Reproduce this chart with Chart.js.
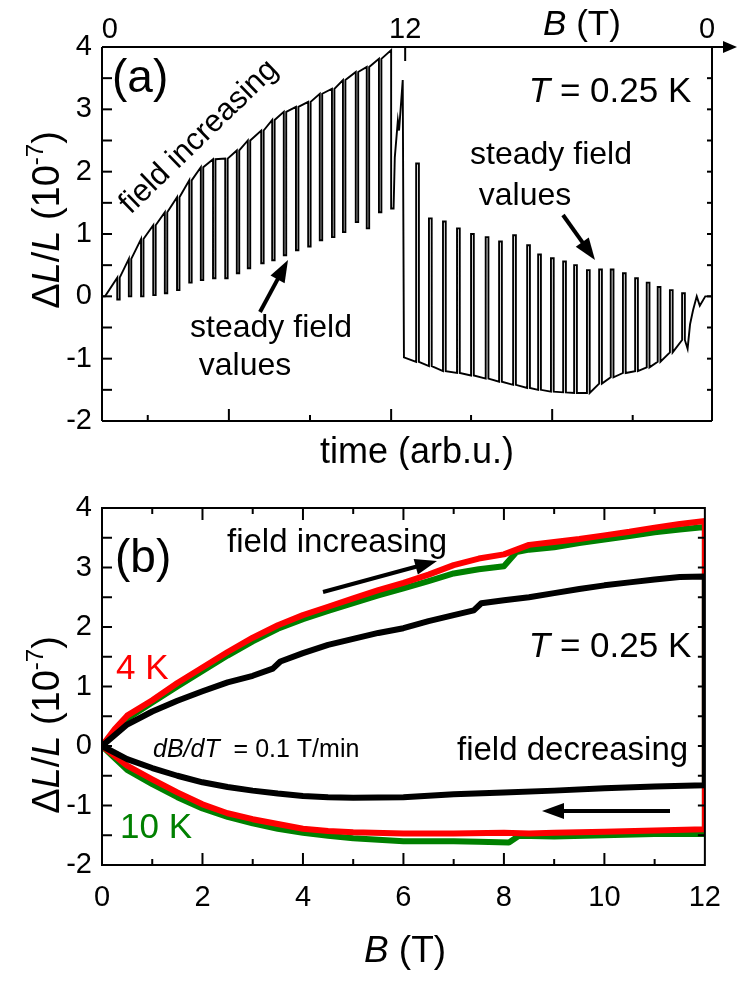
<!DOCTYPE html>
<html>
<head>
<meta charset="utf-8">
<script src="https://cdn.jsdelivr.net/npm/chart.js@4.4.0/dist/chart.umd.min.js"></script>
<style>
  html, body { margin: 0; padding: 0; background: #fff; }
  #wrapA { position: absolute; left: 0; top: 0; width: 737px; height: 470px; }
  #wrapB { position: absolute; left: 0; top: 470px; width: 737px; height: 511px; }
</style>
</head>
<body>
<div id="wrapA"><canvas id="panelA" width="737" height="470"></canvas></div>
<div id="wrapB"><canvas id="panelB" width="737" height="511"></canvas></div>
<script>
// ---- panel (a): time trace, field 0 -> 12 T -> 0, T = 0.25 K ----
// time in arb.u. (0..100); steady-field stops while the field goes up
const upStopTime = [2.5, 4.4, 6.4, 8.4, 10.3, 12.3, 14.3, 16.2, 18.2, 20.2, 22.1, 23.9,
  26.1, 27.9, 29.8, 31.8, 33.8, 35.7, 37.7, 39.5, 41.6, 43.4, 45.4, 47.4];
const upTop = [0.30, 0.60, 0.92, 1.14, 1.35, 1.59, 1.86, 2.07, 2.20, 2.21, 2.34, 2.50,
  2.66, 2.83, 2.96, 3.04, 3.12, 3.25, 3.33, 3.47, 3.60, 3.68, 3.81, 3.95];
const upBottom = [-0.05, 0.00, 0.00, 0.02, 0.05, 0.10, 0.22, 0.26, 0.29, 0.29, 0.37, 0.45,
  0.53, 0.58, 0.66, 0.74, 0.80, 0.90, 0.95, 1.03, 1.19, 1.09, 1.35, 1.41];
// around 12 T
const peakTime = [48.0, 48.5, 48.7, 49.3, 49.5];
const peakVal = [2.23, 2.82, 2.66, 3.47, -0.98];
// steady-field stops while the field goes down
const downStopTime = [51.5, 53.6, 55.9, 58.2, 60.5, 62.9, 65.1, 67.4, 69.7, 71.5, 73.6,
  75.6, 77.4, 79.5, 81.5, 83.4, 85.4, 87.4, 89.3, 91.1, 93.1, 95.1];
const downTop = [2.13, 1.25, 1.20, 1.09, 1.00, 0.95, 0.88, 0.98, 0.82, 0.67, 0.61,
  0.56, 0.50, 0.42, 0.43, 0.43, 0.37, 0.29, 0.22, 0.15, 0.10, 0.05];
const downBottom = [-1.05, -1.12, -1.20, -1.23, -1.27, -1.32, -1.37, -1.42, -1.47, -1.50, -1.53,
  -1.54, -1.55, -1.55, -1.40, -1.30, -1.23, -1.20, -1.14, -1.05, -0.90, -0.70];
const tailTime = [96.0, 96.4, 96.9, 97.5, 98.0, 98.9, 100];
const tailVal = [-0.84, -0.45, -0.22, 0.00, -0.15, 0.00, 0.00];

// axis decorations of panel (a)
const timeMinor = [7.5, 34.1, 60.5, 87.0];
const timeMajor = [20.8, 47.4, 73.8];
const fieldTickPos = [1.3, 49.7, 99.2];
const fieldTickLabels = ['0', '12', '0'];

// ---- panel (b): dL/L vs B at three temperatures ----
const bUp025 = [0, 0.5, 1, 1.5, 2, 2.5, 3, 3.4, 3.55, 4, 4.5, 5, 5.5, 6, 6.5, 7, 7.4, 7.55,
  8, 8.5, 9, 9.5, 10, 10.5, 11, 11.5, 12];
const dlUp025 = [0, 0.36, 0.58, 0.76, 0.92, 1.07, 1.18, 1.30, 1.42, 1.56, 1.70, 1.80, 1.90,
  1.98, 2.10, 2.20, 2.28, 2.40, 2.45, 2.50, 2.57, 2.64, 2.70, 2.75, 2.80, 2.84, 2.85];
const bDown025 = [12, 11, 10, 9, 8, 7, 6, 5, 4.5, 4, 3.5, 3, 2.5, 2, 1.5, 1, 0.5, 0];
const dlDown025 = [-0.66, -0.68, -0.71, -0.75, -0.78, -0.81, -0.86, -0.87, -0.86, -0.84,
  -0.80, -0.75, -0.69, -0.61, -0.50, -0.37, -0.22, 0];

const bUp4 = [0, 0.25, 0.5, 1, 1.5, 2, 2.5, 3, 3.5, 4, 4.5, 5, 5.5, 6, 6.5, 7, 7.5, 8, 8.5,
  9, 9.5, 10, 10.5, 11, 11.5, 12];
const dlUp4 = [0, 0.28, 0.51, 0.77, 1.06, 1.32, 1.58, 1.82, 2.03, 2.20, 2.34, 2.48, 2.62, 2.74,
  2.88, 3.04, 3.15, 3.22, 3.38, 3.43, 3.48, 3.54, 3.60, 3.67, 3.73, 3.78];
const bDown4 = [12, 11, 10, 9, 8.5, 8, 7, 6, 5, 4.5, 4, 3.5, 3, 2.5, 2, 1.5, 1, 0.5, 0];
const dlDown4 = [-1.40, -1.42, -1.44, -1.46, -1.47, -1.46, -1.47, -1.47, -1.45, -1.43, -1.39,
  -1.31, -1.23, -1.13, -0.98, -0.78, -0.56, -0.33, 0];

const bUp10 = [0, 0.25, 0.5, 1, 1.5, 2, 2.5, 3, 3.5, 4, 4.5, 5, 5.5, 6, 6.5, 7, 7.5, 8, 8.25, 8.5,
  9, 9.5, 10, 10.5, 11, 11.5, 12];
const dlUp10 = [0, 0.25, 0.46, 0.73, 1.00, 1.26, 1.52, 1.76, 1.97, 2.13, 2.27, 2.40, 2.53, 2.65,
  2.77, 2.90, 2.97, 3.02, 3.26, 3.30, 3.34, 3.41, 3.47, 3.53, 3.59, 3.64, 3.68];
const bDown10 = [12, 11, 10, 9, 8.3, 8.1, 7.5, 7, 6, 5, 4.5, 4, 3.5, 3, 2.5, 2, 1.5, 1, 0.5, 0];
const dlDown10 = [-1.48, -1.48, -1.50, -1.52, -1.51, -1.62, -1.61, -1.60, -1.60, -1.55, -1.51,
  -1.46, -1.39, -1.30, -1.19, -1.05, -0.86, -0.64, -0.40, 0];

const FAM = "'Liberation Sans', Arial, Helvetica, sans-serif";
const GREEN = '#008000';
const RED = '#ff0000';

// build the time trace: ramp along the envelope, drop at every steady-field stop
const upStopLen = 0.4, downStopLen = 0.45;
const traceA = [{ x: 0, y: 0 }, { x: 0.5, y: 0 }];
upStopTime.forEach((t, i) => {
  traceA.push({ x: t, y: upTop[i] }, { x: t, y: upBottom[i] }, { x: t + upStopLen, y: upBottom[i] });
  if (i < upStopTime.length - 1) traceA.push({ x: t + upStopLen, y: upTop[i] });
});
peakTime.forEach((t, i) => traceA.push({ x: t, y: peakVal[i] }));
downStopTime.forEach((t, i) => {
  traceA.push({ x: t, y: downBottom[i] }, { x: t, y: downTop[i] },
    { x: t + downStopLen, y: downTop[i] }, { x: t + downStopLen, y: downBottom[i] });
});
tailTime.forEach((t, i) => traceA.push({ x: t, y: tailVal[i] }));

function sweep(bu, vu, bd, vd) {
  return bu.map((b, i) => ({ x: b, y: vu[i] })).concat(bd.map((b, i) => ({ x: b, y: vd[i] })));
}

// ---- drawing helpers ----
function line(ctx, x1, y1, x2, y2) {
  ctx.beginPath(); ctx.moveTo(x1, y1); ctx.lineTo(x2, y2); ctx.stroke();
}
function arrow(ctx, x1, y1, x2, y2) {
  const a = Math.atan2(y2 - y1, x2 - x1), hl = 22, hw = 8;
  const bx = x2 - hl * Math.cos(a), by = y2 - hl * Math.sin(a);
  ctx.lineWidth = 4;
  line(ctx, x1, y1, bx + 2 * Math.cos(a), by + 2 * Math.sin(a));
  ctx.beginPath();
  ctx.moveTo(x2, y2);
  ctx.lineTo(bx + hw * Math.sin(a), by - hw * Math.cos(a));
  ctx.lineTo(bx - hw * Math.sin(a), by + hw * Math.cos(a));
  ctx.closePath(); ctx.fill();
}
// parts: [text, style] with style 'n' normal, 'i' italic, 's' superscript
function rich(ctx, x, y, parts, size, align) {
  const fontFor = s => (s === 'i' ? 'italic ' : '') + (s === 's' ? Math.round(size * 0.62) : size) + 'px ' + FAM;
  let w = 0;
  parts.forEach(p => { ctx.font = fontFor(p[1]); w += ctx.measureText(p[0]).width; });
  let cx = align === 'center' ? x - w / 2 : align === 'right' ? x - w : x;
  ctx.textAlign = 'left';
  ctx.textBaseline = 'alphabetic';
  parts.forEach(p => {
    ctx.font = fontFor(p[1]);
    ctx.fillText(p[0], cx, p[1] === 's' ? y - size * 0.42 : y);
    cx += ctx.measureText(p[0]).width;
  });
}
const yTitle = [['\u0394', 'n'], ['L', 'i'], ['/', 'n'], ['L', 'i'], [' (10', 'n'], ['-7', 's'], [')', 'n']];
function ticksLeft(ctx, a, y, len) {
  for (let v = -1.5; v <= 3.5; v += 0.5) { const p = y.getPixelForValue(v); line(ctx, a.left, p, a.left + len, p); }
}
function ticksRight(ctx, a, y, len) {
  for (let v = -1.5; v <= 3.5; v += 0.5) { const p = y.getPixelForValue(v); line(ctx, a.right, p, a.right - len, p); }
}

const decorA = {
  id: 'decorA',
  afterDraw(chart) {
    const { ctx, chartArea: a, scales: { x, y } } = chart;
    ctx.save();
    ctx.strokeStyle = '#000'; ctx.fillStyle = '#000'; ctx.lineWidth = 2;
    line(ctx, a.left, a.top, a.left, a.bottom);
    line(ctx, a.left, a.bottom, a.right, a.bottom);
    line(ctx, a.right, a.top, a.right, a.bottom);
    // field axis on top, with arrow
    line(ctx, a.left, a.top, 726, a.top);
    ctx.beginPath(); ctx.moveTo(737, a.top); ctx.lineTo(723, a.top - 6); ctx.lineTo(723, a.top + 6); ctx.closePath(); ctx.fill();
    ticksLeft(ctx, a, y, 10);
    ticksRight(ctx, a, y, 5);
    timeMinor.forEach(t => { const p = x.getPixelForValue(t); line(ctx, p, a.bottom, p, a.bottom - 6); });
    timeMajor.forEach(t => { const p = x.getPixelForValue(t); line(ctx, p, a.bottom, p, a.bottom - 12); });
    const p12 = x.getPixelForValue(fieldTickPos[1]);
    line(ctx, p12, a.top, p12, a.top + 14);
    ctx.font = '29px ' + FAM; ctx.textAlign = 'center'; ctx.textBaseline = 'alphabetic';
    fieldTickPos.forEach((t, i) => ctx.fillText(fieldTickLabels[i], x.getPixelForValue(t), a.top - 9));
    rich(ctx, 582, 35, [['B', 'i'], [' (T)', 'n']], 35, 'center');
    // titles
    rich(ctx, 417, 463, [['time (arb.u.)', 'n']], 36, 'center');
    ctx.save(); ctx.translate(46, 220); ctx.rotate(-Math.PI / 2);
    rich(ctx, 0, 13, yTitle, 38, 'center'); ctx.restore();
    // annotations
    rich(ctx, 112, 92, [['(a)', 'n']], 46, 'left');
    rich(ctx, 610, 102, [['T', 'i'], [' = 0.25 K', 'n']], 35, 'center');
    ctx.save(); ctx.translate(198, 136); ctx.rotate(-44 * Math.PI / 180);
    rich(ctx, 0, 10, [['field increasing', 'n']], 31, 'center'); ctx.restore();
    rich(ctx, 551, 164, [['steady field', 'n']], 32, 'center');
    rich(ctx, 525, 205, [['values', 'n']], 32, 'center');
    arrow(ctx, 563, 215, 595, 260);
    rich(ctx, 271, 337, [['steady field', 'n']], 32, 'center');
    rich(ctx, 245, 375, [['values', 'n']], 32, 'center');
    arrow(ctx, 260, 312, 288, 260);
    ctx.restore();
  }
};

const decorB = {
  id: 'decorB',
  afterDraw(chart) {
    const { ctx, chartArea: a, scales: { x, y } } = chart;
    const off = 470; // page y of this canvas
    ctx.save();
    ctx.strokeStyle = '#000'; ctx.fillStyle = '#000'; ctx.lineWidth = 2;
    ctx.strokeRect(a.left, a.top, a.right - a.left, a.bottom - a.top);
    ticksLeft(ctx, a, y, 10);
    ticksRight(ctx, a, y, 7);
    for (let b = 1; b < 12; b++) {
      const p = x.getPixelForValue(b), len = b % 2 === 0 ? 12 : 6;
      line(ctx, p, a.bottom, p, a.bottom - len);
      line(ctx, p, a.top, p, a.top + len);
    }
    rich(ctx, 405, 962 - off, [['B', 'i'], [' (T)', 'n']], 37, 'center');
    ctx.save(); ctx.translate(46, 725 - off); ctx.rotate(-Math.PI / 2);
    rich(ctx, 0, 13, yTitle, 38, 'center'); ctx.restore();
    rich(ctx, 115, 572 - off, [['(b)', 'n']], 46, 'left');
    rich(ctx, 227, 552 - off, [['field increasing', 'n']], 33, 'left');
    arrow(ctx, 323, 592 - off, 437, 561 - off);
    rich(ctx, 610, 657 - off, [['T', 'i'], [' = 0.25 K', 'n']], 35, 'center');
    ctx.fillStyle = RED;
    rich(ctx, 116, 679 - off, [['4 K', 'n']], 35, 'left');
    ctx.fillStyle = '#000';
    rich(ctx, 153, 757 - off, [['dB/dT', 'i'], ['  = 0.1 T/min', 'n']], 25, 'left');
    ctx.fillStyle = GREEN;
    rich(ctx, 120, 838 - off, [['10 K', 'n']], 35, 'left');
    ctx.fillStyle = '#000';
    rich(ctx, 457, 760 - off, [['field decreasing', 'n']], 33, 'left');
    arrow(ctx, 670, 811 - off, 542, 811 - off);
    ctx.restore();
  }
};

const baseOpts = {
  responsive: false,
  animation: false,
  events: [],
  plugins: { legend: { display: false }, tooltip: { enabled: false } },
  elements: { point: { radius: 0 }, line: { tension: 0 } }
};
const yScale = {
  min: -2, max: 4,
  grid: { display: false, drawTicks: false },
  border: { display: false },
  ticks: { stepSize: 1, color: '#000', padding: 10, font: { family: FAM, size: 29 } },
  afterFit: s => { s.width = 102; }
};

new Chart(document.getElementById('panelA').getContext('2d'), {
  type: 'scatter',
  data: {
    datasets: [{
      data: traceA, showLine: true, borderColor: '#000', borderWidth: 1.9, pointRadius: 0
    }]
  },
  options: Object.assign({}, baseOpts, {
    layout: { padding: { top: 47, right: 25, bottom: 0, left: 0 } },
    scales: {
      x: {
        type: 'linear', min: 0, max: 100,
        grid: { display: false, drawTicks: false }, border: { display: false },
        ticks: { display: false },
        afterFit: s => { s.height = 49; }
      },
      y: yScale
    }
  }),
  plugins: [decorA]
});

new Chart(document.getElementById('panelB').getContext('2d'), {
  type: 'scatter',
  data: {
    datasets: [
      { data: sweep(bUp025, dlUp025, bDown025, dlDown025), borderColor: '#000' },
      { data: sweep(bUp4, dlUp4, bDown4, dlDown4), borderColor: RED },
      { data: sweep(bUp10, dlUp10, bDown10, dlDown10), borderColor: GREEN }
    ].map(d => Object.assign(d, {
      showLine: true, borderWidth: 6, pointRadius: 0, borderJoinStyle: 'round', borderCapStyle: 'round'
    }))
  },
  options: Object.assign({}, baseOpts, {
    layout: { padding: { top: 38, right: 25, bottom: 0, left: 0 } },
    scales: {
      x: {
        type: 'linear', min: 0, max: 12,
        grid: { display: false, drawTicks: false }, border: { display: false },
        ticks: { stepSize: 2, color: '#000', padding: 16, maxRotation: 0, font: { family: FAM, size: 29 } },
        afterFit: s => { s.height = 116; }
      },
      y: Object.assign({}, yScale)
    }
  }),
  plugins: [decorB]
});
</script>
</body>
</html>
